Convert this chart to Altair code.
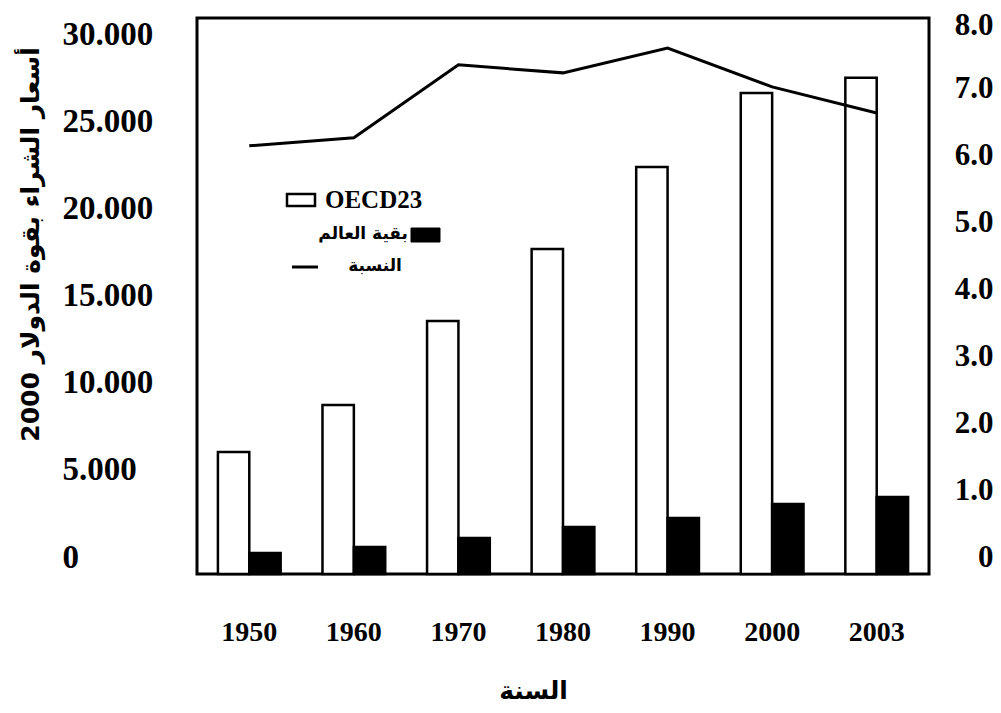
import altair as alt
import pandas as pd

# ---- data ----
years = ["1950", "1960", "1970", "1980", "1990", "2000", "2003"]
oecd23 = [7010, 9710, 14540, 18680, 23390, 27640, 28510]
rest_of_world = [1210, 1550, 2070, 2700, 3220, 4020, 4430]
ratio = [6.40, 6.52, 7.61, 7.49, 7.86, 7.28, 6.89]
series_names = ["OECD23", "بقية العالم"]
ratio_name = "النسبة"
left_ticks = [0, 5000, 10000, 15000, 20000, 25000, 30000]
right_ticks = [0, 1, 2, 3, 4, 5, 6, 7, 8]
y_title = "أسعار الشراء بقوة الدولار 2000"
x_title = "السنة"

bars_df = pd.DataFrame({
    "year": years * 2,
    "series": [s for s in series_names for _ in years],
    "value": oecd23 + rest_of_world,
})
line_df = pd.DataFrame({"year": years, "ratio": ratio})

SERIF = "Liberation Serif"
ARABIC = "DejaVu Sans"

x_scale = alt.Scale(domain=years, paddingInner=0.4, paddingOuter=0.2)
x_axis = alt.Axis(
    labelAngle=0, domain=False, ticks=False, tickSize=0, grid=False,
    labelFont=SERIF, labelFontSize=28, labelFontWeight="bold", labelColor="black",
    labelPadding=58, labelBaseline="middle",
    title=x_title, titleFont=ARABIC, titleFontSize=25, titleFontWeight="bold",
    titleColor="black", titleX=336, titleY=116, titleAlign="center",
    titleBaseline="middle",
)

left_axis = alt.Axis(
    orient="left", values=left_ticks,
    labelExpr="replace(format(datum.value, ','), ',', '.')",
    domain=False, ticks=False, tickSize=0, grid=False,
    labelAlign="left", labelBaseline="middle", labelPadding=135,
    labelOffset=-17, labelFont=SERIF, labelFontSize=33, labelFontWeight="bold",
    labelColor="black", labelFlush=False, labelOverlap=False,
    title=y_title, titleFont=ARABIC, titleFontSize=25, titleFontWeight="bold",
    titleColor="black", titleX=-167, titleY=226, titleAngle=270,
    titleAlign="center", titleBaseline="middle",
)

right_axis = alt.Axis(
    orient="right", values=right_ticks,
    labelExpr="datum.value == 0 ? '0' : format(datum.value, '.1f')",
    domain=False, ticks=False, tickSize=0, grid=False,
    labelAlign="right", labelBaseline="middle", labelPadding=64,
    labelOffset={"condition": {"test": "datum.value == 8", "value": -13}, "value": -17},
    labelFont=SERIF, labelFontSize=31, labelFontWeight="bold", labelColor="black",
    labelFlush=False, labelOverlap=False, title="",
)

bars = alt.Chart(bars_df).mark_bar(stroke="black", strokeWidth=2.5).encode(
    x=alt.X("year:N", scale=x_scale, axis=x_axis),
    xOffset=alt.XOffset("series:N", scale=alt.Scale(domain=series_names, paddingInner=0, paddingOuter=0)),
    y=alt.Y("value:Q", scale=alt.Scale(domain=[0, 31950], nice=False, zero=True), axis=left_axis),
    fill=alt.Fill("series:N", scale=alt.Scale(domain=series_names, range=["white", "black"]), legend=None),
)

line = alt.Chart(line_df).mark_line(color="black", strokeWidth=3).encode(
    x=alt.X("year:N", scale=x_scale, axis=x_axis),
    y=alt.Y("ratio:Q", scale=alt.Scale(domain=[0, 8.31], nice=False), axis=right_axis),
)

one = pd.DataFrame({"k": [0]})
leg_box1 = alt.Chart(one).mark_rect(fill="white", stroke="black", strokeWidth=2.5).encode(
    x=alt.value(90), x2=alt.value(118), y=alt.value(176), y2=alt.value(188))
leg_text1 = alt.Chart(one).mark_text(font=SERIF, fontSize=25, fontWeight="bold", align="left", baseline="middle", color="black").encode(
    x=alt.value(128), y=alt.value(182), text=alt.value(series_names[0]))
leg_box2 = alt.Chart(one).mark_rect(fill="black", stroke="black").encode(
    x=alt.value(214), x2=alt.value(243), y=alt.value(210), y2=alt.value(224))
leg_text2 = alt.Chart(one).mark_text(font=ARABIC, fontSize=17, fontWeight="bold", align="right", baseline="middle", color="black").encode(
    x=alt.value(211), y=alt.value(216), text=alt.value(series_names[1]))
leg_line3 = alt.Chart(one).mark_rule(color="black", strokeWidth=3).encode(
    x=alt.value(95), x2=alt.value(121), y=alt.value(249))
leg_text3 = alt.Chart(one).mark_text(font=ARABIC, fontSize=17, fontWeight="bold", align="center", baseline="middle", color="black").encode(
    x=alt.value(178), y=alt.value(248), text=alt.value(ratio_name))

chart = alt.layer(
    bars, line, leg_box1, leg_text1, leg_box2, leg_text2, leg_line3, leg_text3
).resolve_scale(y="independent").properties(
    width=732, height=556,
    padding={"left": 189, "top": 10, "right": 64, "bottom": 130},
    autosize=alt.AutoSizeParams(type="none"),
    background="white",
).configure_view(stroke="black", strokeWidth=3)

chart.save("out.html", embed_options={"renderer": "svg", "actions": False})
